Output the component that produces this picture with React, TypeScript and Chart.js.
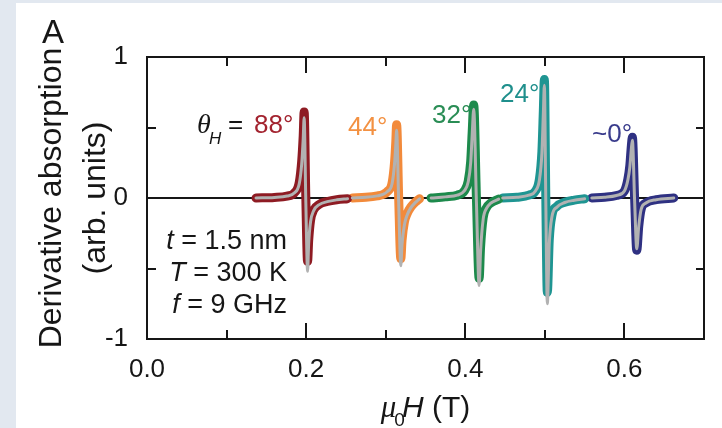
import { useEffect, useRef } from 'react';
import { Chart, registerables } from 'chart.js';

Chart.register(...registerables);

const SANS = "'Liberation Sans', Arial, Helvetica, sans-serif";
const SERIF = "'Liberation Serif', 'Times New Roman', serif";

// Axis tick labels
const xTickLabels = ['0.0', '0.2', '0.4', '0.6'];
const yTickLabels = ['-1', '0', '1'];

// Angle labels for each resonance
const angleLabels = ['88°', '44°', '32°', '24°', '~0°'];

// θH = 88°  (field in T, derivative absorption data and fit)
const h88 = [0.137, 0.16, 0.176, 0.185, 0.1913, 0.1944, 0.1963, 0.1975, 0.1996, 0.2018, 0.2032, 0.2055, 0.2095, 0.2165, 0.2265, 0.2385, 0.252];
const d88 = [0, 0.004, 0.014, 0.035, 0.11, 0.26, 0.44, 0.61, 0.0, -0.45, -0.3, -0.16, -0.085, -0.045, -0.025, -0.012, -0.005];
const f88 = [0, 0.004, 0.014, 0.035, 0.1, 0.24, 0.42, 0.57, -0.03, -0.52, -0.32, -0.17, -0.09, -0.047, -0.026, -0.013, -0.005];

// θH = 44°
const h44 = [0.258, 0.275, 0.2895, 0.2965, 0.3019, 0.3081, 0.3112, 0.3127, 0.3137, 0.3163, 0.319, 0.3205, 0.3235, 0.327, 0.3315, 0.337, 0.3425];
const d44 = [0, 0.005, 0.015, 0.025, 0.045, 0.11, 0.26, 0.4, 0.52, 0.0, -0.43, -0.3, -0.17, -0.11, -0.065, -0.03, -0.005];
const f44 = [0, 0.005, 0.015, 0.025, 0.045, 0.105, 0.25, 0.38, 0.48, -0.03, -0.48, -0.33, -0.19, -0.12, -0.07, -0.033, -0.006];

// θH = 32°
const h32 = [0.357, 0.375, 0.39, 0.3987, 0.4037, 0.4068, 0.4087, 0.4106, 0.414, 0.4174, 0.4192, 0.4225, 0.4265, 0.432, 0.442];
const d32 = [0, 0.008, 0.02, 0.05, 0.12, 0.26, 0.47, 0.66, 0.0, -0.57, -0.35, -0.14, -0.07, -0.035, -0.008];
const f32 = [0, 0.008, 0.02, 0.05, 0.115, 0.25, 0.45, 0.63, -0.03, -0.62, -0.38, -0.15, -0.075, -0.037, -0.008];

// θH = 24°
const h24 = [0.447, 0.465, 0.48, 0.4882, 0.4932, 0.4963, 0.4981, 0.4994, 0.5012, 0.5031, 0.5055, 0.509, 0.515, 0.525, 0.537, 0.55];
const d24 = [0, 0.006, 0.02, 0.05, 0.135, 0.33, 0.62, 0.84, 0.0, -0.67, -0.3, -0.12, -0.06, -0.03, -0.015, -0.005];
const f24 = [0, 0.006, 0.02, 0.05, 0.13, 0.32, 0.6, 0.8, -0.03, -0.75, -0.33, -0.13, -0.065, -0.032, -0.016, -0.005];

// θH ≈ 0°
const h00 = [0.559, 0.575, 0.59, 0.6, 0.6044, 0.6068, 0.6087, 0.61, 0.6128, 0.6155, 0.618, 0.621, 0.627, 0.64, 0.662];
const d00 = [0, 0.005, 0.018, 0.05, 0.135, 0.23, 0.37, 0.43, 0.0, -0.37, -0.2, -0.08, -0.035, -0.012, 0];
const f00 = [0, 0.005, 0.018, 0.05, 0.13, 0.22, 0.35, 0.41, -0.02, -0.36, -0.2, -0.08, -0.035, -0.012, 0];

const fields = [h88, h44, h32, h24, h00];
const dataSeries = [d88, d44, d32, d24, d00];
const fitSeries = [f88, f44, f32, f24, f00];

const seriesColors = ['#8e1b23', '#f28a3b', '#1d8a4c', '#1f9592', '#2f3182'];
const labelColors = ['#a3232f', '#f39142', '#2a8d55', '#1f8f8c', '#3a3c8c'];
const fitColor = '#b2b2b2';

const pts = (xs: number[], ys: number[]) => xs.map((x, i) => ({ x, y: ys[i] }));

const datasets: any[] = [];
fitSeries.forEach((f, i) => {
  datasets.push({
    label: 'fit ' + angleLabels[i],
    data: pts(fields[i], f),
    borderColor: fitColor,
    borderWidth: 3,
    pointRadius: 0,
    cubicInterpolationMode: 'monotone',
    borderCapStyle: 'round',
    borderJoinStyle: 'round',
    fill: false,
    order: 0,
  });
});
dataSeries.forEach((d, i) => {
  datasets.push({
    label: angleLabels[i],
    data: pts(fields[i], d),
    borderColor: seriesColors[i],
    borderWidth: 9,
    pointRadius: 0,
    cubicInterpolationMode: 'monotone',
    borderCapStyle: 'round',
    borderJoinStyle: 'round',
    fill: false,
    order: 1,
  });
});

type Run = { t: string; font: string; color: string; x: number; y: number };

function drawRuns(ctx: CanvasRenderingContext2D, runs: Run[]) {
  ctx.textAlign = 'left';
  ctx.textBaseline = 'alphabetic';
  for (const r of runs) {
    ctx.font = r.font;
    ctx.fillStyle = r.color;
    ctx.fillText(r.t, r.x, r.y);
  }
}

const INK = '#161616';

const decor = {
  id: 'decor',
  beforeDraw(chart: any) {
    const { ctx, width, height } = chart;
    ctx.save();
    ctx.fillStyle = '#e2e8f0';
    ctx.fillRect(0, 0, width, height);
    ctx.fillStyle = '#ffffff';
    ctx.fillRect(16, 3, width - 16, height - 3);
    ctx.restore();
  },
  afterDraw(chart: any) {
    const { ctx, chartArea: a, scales } = chart;
    const xs = scales.x;
    const ys = scales.y;
    ctx.save();
    // frame
    ctx.strokeStyle = INK;
    ctx.lineWidth = 2;
    ctx.strokeRect(a.left, a.top, a.right - a.left, a.bottom - a.top);
    // inward ticks
    ctx.beginPath();
    for (const t of xs.ticks) {
      if (t.value <= xs.min + 1e-9 || t.value >= xs.max - 1e-9) continue;
      const px = Math.round(xs.getPixelForValue(t.value));
      const major = Math.round(t.value * 10) % 2 === 0;
      const len = major ? 16 : 9;
      ctx.moveTo(px, a.bottom);
      ctx.lineTo(px, a.bottom - len);
      ctx.moveTo(px, a.top);
      ctx.lineTo(px, a.top + len);
    }
    for (const t of ys.ticks) {
      if (t.value <= ys.min + 1e-9 || t.value >= ys.max - 1e-9 || Math.abs(t.value) < 1e-9) continue;
      const py = Math.round(ys.getPixelForValue(t.value));
      ctx.moveTo(a.left, py);
      ctx.lineTo(a.left + 9, py);
      ctx.moveTo(a.right, py);
      ctx.lineTo(a.right - 8, py);
    }
    ctx.stroke();

    // panel letter
    drawRuns(ctx, [{ t: 'A', font: `33px ${SANS}`, color: INK, x: 42, y: 43 }]);

    // angle labels
    drawRuns(ctx, [
      { t: 'θ', font: `italic 28px ${SERIF}`, color: INK, x: 197, y: 133 },
      { t: 'H', font: `italic 17px ${SANS}`, color: INK, x: 209, y: 144 },
      { t: '=', font: `26px ${SANS}`, color: INK, x: 228, y: 133 },
      { t: angleLabels[0], font: `26px ${SANS}`, color: labelColors[0], x: 254, y: 133 },
      { t: angleLabels[1], font: `26px ${SANS}`, color: labelColors[1], x: 348, y: 135 },
      { t: angleLabels[2], font: `26px ${SANS}`, color: labelColors[2], x: 432, y: 123 },
      { t: angleLabels[3], font: `26px ${SANS}`, color: labelColors[3], x: 500, y: 102 },
      { t: angleLabels[4], font: `26px ${SANS}`, color: labelColors[4], x: 592, y: 142 },
    ]);

    // parameter block (right aligned)
    const lines: [string, string, number][] = [
      ['t', ' = 1.5 nm', 249],
      ['T', ' = 300 K', 281],
      ['f', ' = 9 GHz', 313],
    ];
    const rightEdge = 287;
    for (const [it, rest, y] of lines) {
      ctx.font = `27px ${SANS}`;
      const wr = ctx.measureText(rest).width;
      ctx.font = `italic 27px ${SANS}`;
      const wi = ctx.measureText(it).width;
      drawRuns(ctx, [
        { t: it, font: `italic 27px ${SANS}`, color: INK, x: rightEdge - wr - wi, y },
        { t: rest, font: `27px ${SANS}`, color: INK, x: rightEdge - wr, y },
      ]);
    }

    // x axis title: μ0H (T)
    const fMu = `italic 31px ${SERIF}`;
    const fSub = `19px ${SANS}`;
    const fH = `italic 30px ${SANS}`;
    const fT = `30px ${SANS}`;
    ctx.font = fMu; const wMu = ctx.measureText('μ').width;
    ctx.font = fSub; const wSub = ctx.measureText('0').width;
    ctx.font = fH; const wH = ctx.measureText('H').width;
    ctx.font = fT; const wT = ctx.measureText(' (T)').width;
    const total = wMu - 2 + wSub - 3 + wH + wT;
    let x = (a.left + a.right) / 2 - total / 2;
    const base = 417;
    drawRuns(ctx, [{ t: 'μ', font: fMu, color: INK, x, y: base }]);
    x += wMu - 2;
    drawRuns(ctx, [{ t: '0', font: fSub, color: INK, x, y: base + 9 }]);
    x += wSub - 3;
    drawRuns(ctx, [{ t: 'H', font: fH, color: INK, x, y: base }]);
    x += wH;
    drawRuns(ctx, [{ t: ' (T)', font: fT, color: INK, x, y: base }]);
    ctx.restore();
  },
};

export default function App() {
  const ref = useRef<HTMLCanvasElement>(null);
  useEffect(() => {
    document.body.style.margin = '0';
    const chart = new Chart(ref.current as HTMLCanvasElement, {
      type: 'line',
      data: { datasets },
      options: {
        animation: false,
        responsive: false,
        devicePixelRatio: 1,
        layout: { padding: { left: 0, top: 57, right: 12, bottom: 0 } },
        plugins: { legend: { display: false }, tooltip: { enabled: false } },
        scales: {
          x: {
            type: 'linear',
            min: 0,
            max: 0.7,
            afterFit: (s: any) => { s.height = 89; },
            grid: { display: false, drawTicks: false },
            border: { display: false },
            ticks: {
              stepSize: 0.1,
              autoSkip: false,
              maxRotation: 0,
              padding: 18,
              color: INK,
              font: { size: 26, family: SANS, lineHeight: 1 },
              callback: (v: any) => xTickLabels.find((l) => Math.abs(parseFloat(l) - Number(v)) < 1e-6) ?? '',
            },
          },
          y: {
            type: 'linear',
            min: -1,
            max: 1,
            afterFit: (s: any) => { s.width = 147; },
            grid: {
              drawOnChartArea: true,
              drawTicks: false,
              lineWidth: 2,
              color: (c: any) => (c.tick && Math.abs(c.tick.value) < 1e-9 ? INK : 'rgba(0,0,0,0)'),
            },
            border: { display: false },
            ticks: {
              stepSize: 0.5,
              autoSkip: false,
              padding: 19,
              color: INK,
              font: { size: 26, family: SANS, lineHeight: 1 },
              callback: (v: any) => yTickLabels.find((l) => Math.abs(Number(l) - Number(v)) < 1e-9) ?? '',
            },
            title: {
              display: true,
              text: ['Derivative absorption', '(arb. units)'],
              color: INK,
              font: { size: 32, family: SANS, lineHeight: 1.375 },
              padding: { top: 30, bottom: 0 },
            },
          },
        },
      },
      plugins: [decor],
    });
    return () => chart.destroy();
  }, []);
  return (
    <div style={{ width: 722, height: 428 }}>
      <canvas ref={ref} width={722} height={428} style={{ display: 'block', width: 722, height: 428 }} />
    </div>
  );
}
